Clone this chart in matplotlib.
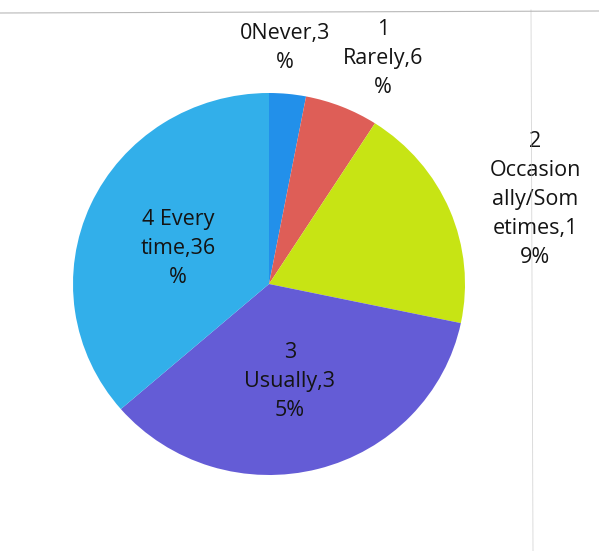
import matplotlib
matplotlib.use("Agg")
import matplotlib.pyplot as plt

categories = ["0Never", "1 Rarely", "2 Occasionally/Sometimes", "3 Usually", "4 Every time"]
values = [3, 6, 19, 35, 36]
labels = ["0Never,3\n%", "1\nRarely,6\n%", "2\nOccasion\nally/Som\netimes,1\n9%",
          "3\nUsually,3\n5%", "4 Every\ntime,36\n%"]
colors = ["#2290EA", "#DE5E57", "#C7E414", "#645CD6", "#32AFEA"]
label_pos = [(0.08, 1.236), (0.582, 1.183), (1.357, 0.44), (0.107, -0.508), (-0.464, 0.188)]

W, H = 599, 551
fig = plt.figure(figsize=(W / 100, H / 100), dpi=100)
fig.patch.set_facecolor("white")

# faint scan border lines
fig.add_artist(plt.Line2D([0, 1], [1 - 13 / H, 1 - 11 / H], color="#9a9a9a", lw=0.8, alpha=0.7))
fig.add_artist(plt.Line2D([531 / W, 533 / W], [1 - 10 / H, 0], color="#bbbbbb", lw=0.6, alpha=0.6))

cx, cy, rx, ry = 269, 284, 196, 191
ax = fig.add_axes([(cx - rx) / W, (H - cy - ry) / H, 2 * rx / W, 2 * ry / H])
ax.pie(values, colors=colors, startangle=90, counterclock=False, radius=1,
       wedgeprops=dict(linewidth=0))
ax.set_aspect("auto")
ax.set_xlim(-1, 1)
ax.set_ylim(-1, 1)
ax.axis("off")

for lab, (x, y) in zip(labels, label_pos):
    ax.text(x, y, lab, ha="center", va="center", fontsize=15.5, family=["Open Sans", "DejaVu Sans"],
            color="#141414", linespacing=1.5, clip_on=False)

fig.savefig("out.png", dpi=100)
